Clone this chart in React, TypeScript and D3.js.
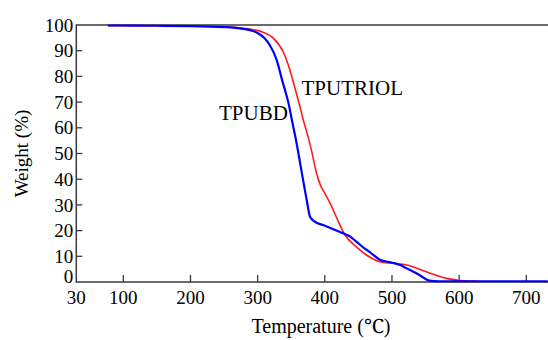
import * as d3 from "d3";
import React, { useEffect, useRef } from "react";

// TGA curves: temperature (°C) vs weight (%)
const bdTemp = [77, 150, 200, 250, 270, 290, 300, 310, 318, 328, 337, 346, 351, 358, 365, 373, 378, 385, 397, 410, 427, 437, 447, 457, 467, 482, 501, 512, 522, 532, 541, 550, 556, 570, 650, 732];
const bdWeight = [99.8, 99.7, 99.6, 99.2, 98.8, 97.9, 96.9, 94.9, 92.2, 86.6, 78, 69.5, 63, 54, 43.6, 32, 25.4, 23.5, 22.2, 20.8, 19, 17.8, 15.7, 13.5, 11.6, 8.7, 7.5, 6.6, 5.3, 4.0, 2.7, 1.2, 0.5, 0.3, 0.3, 0.3];

const triolTemp = [77, 200, 250, 270, 290, 308, 323, 338, 348, 355, 363, 368, 373, 380, 388, 393, 400, 408, 418, 430, 447, 462, 482, 500, 522, 551, 581, 601, 630];
const triolWeight = [99.8, 99.7, 99.4, 99.0, 98.3, 97.2, 95.0, 89.6, 82.5, 76, 68.2, 63, 58.5, 51.4, 42, 38, 34.5, 30.6, 24.8, 18.3, 13.7, 10.5, 7.9, 7.3, 6.6, 4, 1.4, 0.6, 0.2];

const xTicks = [100, 200, 300, 400, 500, 600, 700];
const yTicks = [10, 20, 30, 40, 50, 60, 70, 80, 90, 100];

const App = () => {
  const svgRef = useRef<SVGSVGElement>(null);

  useEffect(() => {
    const width = 548;
    const height = 340;
    const left = 76.3;
    const top = 25;
    const bottom = 282;

    const svg = d3.select(svgRef.current);
    svg.selectAll("*").remove();
    svg.attr("width", width).attr("height", height);

    const x = d3.scaleLinear([30, 732.3], [left, width]);
    const y = d3.scaleLinear([0, 100], [bottom, top]);
    const axisColor = "#3a3a3a";
    const font =
      '"Liberation Serif", "Times New Roman", Times, Tinos, "Noto Serif", "DejaVu Serif", FreeSerif, serif';

    // frame: left, bottom, top
    svg.append("path")
      .attr("d", `M${width},${top}H${left}V${bottom}H${width}`)
      .attr("fill", "none")
      .attr("stroke", axisColor)
      .attr("stroke-width", 1.5);

    // y ticks pointing inward
    svg.append("g")
      .selectAll("line")
      .data(yTicks.filter((d) => d < 100))
      .join("line")
      .attr("x1", left)
      .attr("x2", left + 6)
      .attr("y1", (d) => y(d))
      .attr("y2", (d) => y(d))
      .attr("stroke", axisColor)
      .attr("stroke-width", 1.3);

    svg.append("g")
      .selectAll("text")
      .data([0, ...yTicks])
      .join("text")
      .attr("x", left - 3)
      .attr("y", (d) => (d === 0 ? y(0) - 6 : y(d)))
      .attr("dy", "0.35em")
      .attr("text-anchor", "end")
      .style("font-family", font)
      .attr("font-size", 19)
      .text((d) => d);

    // x ticks pointing up
    svg.append("g")
      .selectAll("line")
      .data(xTicks)
      .join("line")
      .attr("x1", (d) => x(d))
      .attr("x2", (d) => x(d))
      .attr("y1", bottom)
      .attr("y2", bottom - 7)
      .attr("stroke", axisColor)
      .attr("stroke-width", 1.3);

    svg.append("g")
      .selectAll("text")
      .data([30, ...xTicks])
      .join("text")
      .attr("x", (d) => x(d))
      .attr("y", 304)
      .attr("text-anchor", "middle")
      .style("font-family", font)
      .attr("font-size", 19)
      .text((d) => d);

    // axis titles
    svg.append("text")
      .attr("x", 321)
      .attr("y", 333)
      .attr("text-anchor", "middle")
      .style("font-family", font)
      .attr("font-size", 20)
      .text("Temperature (℃)");

    svg.append("text")
      .attr("transform", "translate(28,153.5) rotate(-90)")
      .attr("text-anchor", "middle")
      .style("font-family", font)
      .attr("font-size", 19)
      .text("Weight (%)");

    const line = d3.line<[number, number]>()
      .x((d) => x(d[0]))
      .y((d) => y(d[1]))
      .curve(d3.curveMonotoneX);

    svg.append("path")
      .datum(d3.zip(triolTemp, triolWeight) as [number, number][])
      .attr("d", line)
      .attr("fill", "none")
      .attr("stroke", "#ff1a1a")
      .attr("stroke-width", 1.6);

    svg.append("path")
      .datum(d3.zip(bdTemp, bdWeight) as [number, number][])
      .attr("d", line)
      .attr("fill", "none")
      .attr("stroke", "#0000ff")
      .attr("stroke-width", 2.2);

    // curve labels
    svg.append("text")
      .attr("x", 301.5)
      .attr("y", 95)
      .style("font-family", font)
      .attr("font-size", 21)
      .text("TPUTRIOL");

    svg.append("text")
      .attr("x", 219)
      .attr("y", 120)
      .style("font-family", font)
      .attr("font-size", 21)
      .text("TPUBD");
  });

  return (
    <svg
      ref={svgRef}
      style={{ position: "absolute", left: 0, top: 0, background: "#fff" }}
    />
  );
};

export default App;
